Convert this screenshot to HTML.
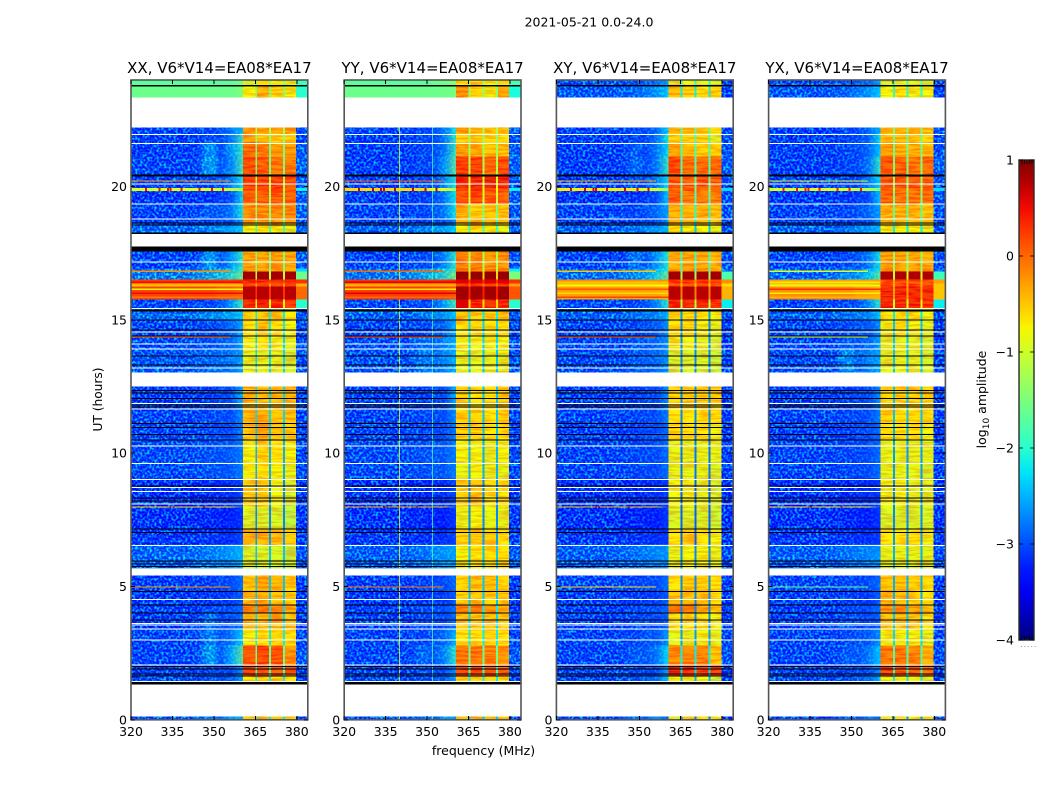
<!DOCTYPE html>
<html lang="en">
<head>
<meta charset="utf-8">
<title>2021-05-21 dynamic spectra</title>
<style>
html,body{margin:0;padding:0;background:#fff;}
svg{display:block;font-family:"DejaVu Sans","Liberation Sans",sans-serif;fill:#000;}
</style>
</head>
<body>
<svg id="chart" xmlns="http://www.w3.org/2000/svg" width="1050" height="800" viewBox="0 0 1050 800">
  <defs id="defs">
    <filter id="speckle" x="0" y="0" width="100%" height="100%" color-interpolation-filters="sRGB">
      <feTurbulence type="fractalNoise" baseFrequency="0.42" numOctaves="1" seed="7" result="n"/>
      <feColorMatrix in="n" type="matrix" values="0 0 0 0 0  3.4 0 0 0 -1.45  0 0 0 0 1  0 0 0 0 0.72" result="c"/>
      <feComposite in="c" in2="SourceAlpha" operator="in"/>
    </filter>
    <filter id="mottle" x="0" y="0" width="100%" height="100%" color-interpolation-filters="sRGB">
      <feTurbulence type="fractalNoise" baseFrequency="0.06 0.45" numOctaves="2" seed="11" result="n"/>
      <feColorMatrix in="n" type="matrix" values="0 0 0 0 1  3.5 0 0 0 -1.15  0 0 0 0 0  0 0 0 0 0.22" result="c"/>
      <feComposite in="c" in2="SourceAlpha" operator="in"/>
    </filter>
    <linearGradient id="jet-gradient" x1="0" y1="1" x2="0" y2="0"></linearGradient>
  </defs>
  <text x="589" y="26.5" font-size="12.5" text-anchor="middle">2021-05-21 0.0-24.0</text>
  <text x="483.5" y="755" font-size="12.5" text-anchor="middle">frequency (MHz)</text>
  <text transform="translate(102,399.5) rotate(-90)" font-size="12.2" text-anchor="middle">UT (hours)</text>
  <text transform="translate(986,399.5) rotate(-90)" font-size="12.5" text-anchor="middle">log<tspan font-size="9" dy="3">10</tspan><tspan dy="-3"> amplitude</tspan></text>
  <g id="panels"></g>
  <g id="colorbar"></g>
</svg>
<script>
/* ---------- data (UT hours, MHz, log10 amplitude) ---------- */
const panelTitles = ["XX, V6*V14=EA08*EA17", "YY, V6*V14=EA08*EA17", "XY, V6*V14=EA08*EA17", "YX, V6*V14=EA08*EA17"];
const xTicks = [320, 335, 350, 365, 380];
const yTicks = [0, 5, 10, 15, 20];
const colorTicks = [-4, -3, -2, -1, 0, 1];
const colorTickLabels = ["\u22124", "\u22123", "\u22122", "\u22121", "0", "1"];

/* frequency zones: background, blob, mid, ramp, sub-band 1, sep, sub-band 2, sep, sub-band 3, sep, sub-band 4, edge */
const freqEdges = [320, 344, 352, 356, 360.5, 365, 365.7, 370, 370.7, 375, 375.7, 379.7, 384];
/* maps each zone above to a column in the value rows */
const zoneColumn = [0, 1, 2, 3, 4, 5, 6, 5, 7, 5, 8, 9];

const timeEdges = [24, 23.79, 23.34, 22.22, 21.99, 21.65, 21.13, 20.38, 19.95, 19.83, 19.37, 18.80, 18.54, 18.28, 17.57, 16.93, 16.82, 16.52, 16.37, 16.25, 15.77, 15.43, 15.02, 14.42, 13.93, 13.03, 12.50, 11.64, 11.15, 10.48, 9.65, 9.06, 8.0, 7.96, 7.18, 6.58, 5.69, 5.42, 4.85, 4.33, 4.03, 3.43, 2.79, 2.08, 1.67, 1.41, 0.13, 0];

/* row columns: bg, blob, mid, ramp, sb1, sep, sb2, sb3, sb4, edge */
const valuesXX = [
[-1.7,-1.7,-1.7,-1.5,-1.0,-1.4,-0.7,-0.8,-0.9,-1.9],
[-1.6,-1.6,-1.6,-1.5,-0.8,-1.5,-0.4,-0.6,-0.8,-2.0],
null,
[-3.0,-3.0,-2.7,-2.4,-0.2,-1.2,-0.3,-0.3,-0.3,-2.9],
[-3.1,-3.0,-2.7,-1.9,-0.3,-1.4,-0.5,-0.6,-0.6,-2.9],
[-3.1,-2.3,-2.5,-1.9,0.05,-1.5,-0.05,-0.25,-0.25,-2.6],
[-3.0,-2.2,-2.6,-1.8,0.25,-1.5,0.15,-0.05,-0.05,-2.5],
[-3.1,-3.0,-2.7,-2.1,0.35,-1.2,0.35,0.35,0.25,-2.6],
[-0.9,-0.9,-1.0,-1.3,0.2,-1.0,0.3,0.3,0.2,-2.2],
[-3.2,-3.2,-3.0,-2.2,0.15,-1.3,0.15,0.15,0.15,-2.6],
[-3.0,-2.8,-2.7,-2.1,-0.15,-1.4,-0.15,-0.15,-0.15,-2.5],
[-3.1,-3.1,-3.0,-2.5,-0.3,-1.6,-0.3,-0.3,-0.3,-2.8],
[-2.5,-2.5,-2.4,-2.3,-0.8,-1.9,-0.7,-0.8,-0.9,-2.4],
null,
[-3.0,-2.2,-2.5,-1.9,-0.3,-1.5,-0.3,-0.3,-0.3,-2.6],
[-2.3,-2.2,-2.1,-1.9,-0.3,-1.4,-0.3,-0.3,-0.3,-2.3],
[-2.1,-2.0,-1.9,-1.5,0.85,-1.0,0.85,0.85,0.85,-1.6],
[0.25,0.25,0.25,0.3,0.5,0.2,0.5,0.5,0.5,0.3],
[-0.4,-0.4,-0.4,-0.4,0.3,-0.3,0.3,0.3,0.3,-0.4],
[0.2,0.2,0.1,0.0,0.75,0.3,0.75,0.75,0.75,0.0],
[-3.0,-3.0,-2.5,-1.8,0.5,-0.8,0.5,0.5,0.45,-2.0],
[-2.4,-2.4,-2.4,-2.3,-0.6,-2.2,-0.5,-0.6,-0.7,-2.7],
[-3.0,-3.0,-2.8,-2.5,-0.7,-2.2,-0.5,-0.7,-0.8,-2.9],
[-2.9,-2.9,-2.8,-2.5,-0.8,-2.3,-0.7,-0.8,-0.9,-2.9],
[-2.7,-2.7,-2.7,-2.5,-0.9,-2.3,-0.9,-0.9,-1.0,-2.8],
null,
[-3.1,-3.1,-3.0,-2.4,-0.4,-2.3,-0.5,-0.5,-0.4,-3.0],
[-3.0,-3.0,-3.0,-2.6,-0.4,-2.3,-0.4,-0.5,-0.5,-3.0],
[-3.0,-3.0,-3.0,-2.7,-0.5,-2.4,-0.3,-0.5,-0.6,-3.0],
[-2.9,-2.9,-2.9,-2.7,-0.8,-2.5,-0.6,-0.7,-0.8,-2.9],
[-2.9,-2.9,-2.9,-2.7,-0.8,-2.5,-0.7,-0.8,-0.9,-2.9],
[-3.3,-3.3,-3.2,-3.0,-0.6,-2.7,-0.6,-0.8,-1.0,-3.2],
[-0.6,-0.6,-0.7,-2.9,-0.8,-2.6,-0.8,-0.9,-1.1,-3.1],
[-3.3,-3.3,-3.3,-3.1,-1.0,-2.7,-1.0,-1.0,-1.2,-3.2],
[-3.2,-3.2,-3.2,-3.0,-0.4,-2.6,-0.4,-0.5,-0.6,-3.1],
[-2.5,-2.5,-2.5,-2.4,-1.0,-2.4,-1.0,-1.0,-1.1,-2.7],
null,
[-3.1,-3.1,-3.0,-2.8,-0.5,-2.4,-0.3,-0.4,-0.6,-3.1],
[-3.2,-3.2,-3.1,-2.9,-0.4,-2.4,-0.4,-0.5,-0.6,-3.2],
[-3.1,-3.0,-3.0,-2.8,-0.1,-2.3,0.0,-0.1,-0.3,-3.1],
[-3.1,-2.6,-3.0,-2.8,-0.4,-2.3,-0.4,-0.4,-0.5,-3.1],
[-3.0,-2.5,-2.7,-2.3,-0.8,-2.2,-0.7,-0.6,-0.7,-3.0],
[-3.0,-2.2,-2.4,-1.6,0.2,-1.6,0.3,0.2,-0.2,-2.7],
[-3.0,-3.0,-3.0,-2.6,0.3,-1.8,0.2,0.2,0.15,-3.0],
[-2.9,-2.9,-2.9,-2.5,-0.7,-2.2,-0.6,-0.6,-0.7,-3.0],
null,
[-2.8,-2.4,-2.4,-2.5,-0.5,-2.2,-0.4,-0.5,-0.6,-3.0]
];
const valuesYY = [
[-1.7,-1.7,-1.6,-1.4,-0.7,-1.2,-0.6,-0.8,-0.7,-1.8],
[-1.6,-1.6,-1.6,-1.5,-0.2,-1.4,-0.6,-0.8,-0.3,-2.1],
null,
[-3.0,-3.0,-2.7,-2.1,-0.2,-1.2,-0.5,-0.5,-0.4,-2.8],
[-3.1,-3.0,-2.7,-1.9,-0.6,-1.3,-0.6,-0.7,-0.7,-2.8],
[-3.1,-3.0,-2.7,-1.8,-0.3,-1.3,-0.4,-0.5,-0.5,-2.6],
[-3.1,-3.0,-2.5,-1.6,0.35,-1.2,0.35,0.05,0.25,-2.5],
[-3.1,-3.0,-2.6,-2.0,0.5,-1.0,0.5,0.55,0.5,-2.6],
[-0.6,-0.6,-0.8,-1.4,0.4,-0.8,0.5,0.3,0.3,-2.2],
[-3.1,-3.1,-2.7,-2.1,0.25,-1.0,0.25,0.15,0.15,-2.7],
[-3.0,-3.0,-2.7,-2.1,-0.4,-1.5,-0.6,-0.5,-0.5,-2.7],
[-3.1,-3.1,-3.0,-2.6,-0.4,-1.8,-0.4,-0.4,-0.5,-2.9],
[-2.5,-2.5,-2.4,-2.3,-0.8,-1.9,-0.7,-0.8,-0.9,-2.5],
null,
[-3.0,-3.0,-2.6,-1.9,-0.1,-1.2,-0.1,-0.2,-0.2,-2.7],
[-2.3,-2.2,-2.1,-1.8,-0.1,-1.1,-0.1,-0.1,-0.1,-2.2],
[-2.2,-2.1,-1.9,-1.4,0.9,-0.6,0.9,0.9,0.9,-1.5],
[0.3,0.3,0.3,0.35,0.6,0.3,0.6,0.6,0.6,0.3],
[-0.3,-0.3,-0.3,-0.3,0.4,-0.1,0.4,0.4,0.4,-0.3],
[0.25,0.25,0.2,0.1,0.85,0.4,0.85,0.85,0.85,0.1],
[-3.0,-3.0,-2.4,-1.7,0.6,-0.6,0.5,0.5,0.5,-2.0],
[-2.6,-2.6,-2.5,-2.3,-0.5,-2.2,-0.6,-0.6,-0.5,-2.7],
[-3.0,-3.0,-2.8,-2.4,-0.7,-2.3,-0.7,-0.7,-0.7,-2.9],
[-2.9,-2.6,-2.6,-2.4,-0.8,-2.3,-0.8,-0.8,-0.8,-2.9],
[-2.8,-2.5,-2.6,-2.4,-0.9,-2.4,-0.9,-0.9,-0.9,-2.8],
null,
[-3.1,-3.1,-3.0,-2.4,-0.6,-2.4,-0.7,-0.7,-0.6,-3.0],
[-3.0,-3.0,-3.0,-2.6,-0.6,-2.4,-0.6,-0.7,-0.6,-3.0],
[-3.0,-3.0,-3.0,-2.7,-0.6,-2.4,-0.6,-0.7,-0.7,-3.0],
[-2.9,-2.9,-2.9,-2.7,-0.8,-2.5,-0.8,-0.9,-0.8,-2.9],
[-2.9,-2.9,-2.9,-2.7,-0.9,-2.5,-0.8,-0.9,-0.9,-2.9],
[-3.3,-3.3,-3.2,-3.0,-0.6,-2.7,-0.5,-0.7,-0.7,-3.2],
[-0.4,-0.4,-0.5,-2.9,-0.8,-2.6,-0.8,-0.9,-0.9,-3.1],
[-3.3,-3.3,-3.3,-3.1,-0.9,-2.7,-0.8,-0.9,-0.9,-3.2],
[-3.2,-3.2,-3.2,-3.0,-0.6,-2.6,-0.5,-0.6,-0.7,-3.1],
[-2.6,-2.6,-2.5,-2.5,-0.8,-2.4,-0.7,-0.7,-0.7,-2.7],
null,
[-3.1,-3.1,-3.0,-2.8,-0.6,-2.4,-0.5,-0.5,-0.6,-3.1],
[-3.2,-3.2,-3.1,-2.9,-0.6,-2.4,-0.5,-0.6,-0.6,-3.2],
[-3.1,-3.0,-3.0,-2.8,-0.1,-2.2,-0.1,-0.2,-0.3,-3.1],
[-3.1,-3.0,-3.0,-2.8,-0.5,-2.3,-0.5,-0.5,-0.6,-3.1],
[-3.0,-3.0,-2.8,-2.4,-0.7,-2.2,-0.7,-0.6,-0.7,-3.0],
[-3.0,-2.7,-2.6,-1.9,0.0,-1.6,0.0,-0.1,-0.2,-2.7],
[-3.0,-3.0,-3.0,-2.6,0.35,-1.8,0.25,0.25,0.15,-3.0],
[-2.9,-2.9,-2.9,-2.5,-0.5,-2.2,-0.6,-0.6,-0.7,-3.0],
null,
[-2.9,-2.6,-2.5,-2.6,-0.5,-2.4,-0.4,-0.5,-0.6,-3.0]
];
const valuesXY = [
[-2.9,-2.9,-2.8,-2.5,-0.9,-2.0,-0.8,-0.9,-1.0,-3.0],
[-2.7,-2.7,-2.5,-2.3,-0.5,-2.2,-0.6,-0.7,-0.6,-3.1],
null,
[-3.1,-3.0,-2.8,-2.3,-0.4,-1.7,-0.5,-0.5,-0.7,-2.9],
[-3.1,-3.0,-2.7,-2.1,-0.6,-1.8,-0.6,-0.6,-0.9,-2.9],
[-3.1,-2.8,-2.7,-2.2,-0.3,-1.8,-0.5,-0.6,-0.6,-2.8],
[-3.1,-2.7,-2.7,-1.9,0.25,-1.8,0.05,0.05,0.05,-2.6],
[-3.1,-3.0,-2.7,-2.2,0.25,-1.7,0.15,0.25,0.15,-2.7],
[-0.7,-0.7,-0.9,-1.5,0.1,-1.4,0.2,0.1,0.0,-2.3],
[-3.2,-3.2,-3.0,-2.3,0.15,-1.8,-0.05,-0.05,-0.05,-2.8],
[-3.0,-3.0,-2.8,-2.5,-0.4,-2.0,-0.4,-0.4,-0.5,-2.8],
[-3.1,-3.1,-3.0,-2.6,-0.4,-2.2,-0.4,-0.4,-0.5,-3.0],
[-2.6,-2.6,-2.5,-2.4,-0.7,-2.4,-0.8,-0.8,-0.9,-2.7],
null,
[-3.0,-2.6,-2.5,-2.0,-0.4,-1.9,-0.3,-0.3,-0.4,-2.9],
[-2.5,-2.4,-2.3,-2.0,-0.3,-1.8,-0.2,-0.3,-0.3,-2.5],
[-2.4,-2.4,-2.1,-1.5,0.85,-1.3,0.85,0.85,0.85,-1.8],
[-0.2,-0.2,-0.2,-0.2,0.4,-0.2,0.4,0.4,0.4,-0.2],
[-0.6,-0.6,-0.6,-0.6,0.2,-0.5,0.2,0.2,0.2,-0.6],
[-0.3,-0.3,-0.3,-0.4,0.75,-0.1,0.75,0.75,0.75,-0.4],
[-3.0,-3.0,-2.6,-1.9,0.5,-1.2,0.5,0.5,0.45,-2.2],
[-2.6,-2.6,-2.6,-2.4,-0.6,-2.6,-0.7,-0.7,-0.8,-2.8],
[-3.0,-3.0,-2.9,-2.6,-0.7,-2.7,-0.7,-0.8,-0.9,-3.1],
[-3.0,-2.8,-2.8,-2.6,-0.8,-2.7,-0.8,-0.9,-1.0,-3.1],
[-2.9,-2.8,-2.8,-2.6,-1.0,-2.7,-1.0,-1.0,-1.1,-3.0],
null,
[-3.1,-3.1,-3.0,-2.6,-0.6,-2.7,-0.6,-0.6,-0.6,-3.2],
[-3.0,-3.0,-3.0,-2.7,-0.7,-2.7,-0.7,-0.7,-0.7,-3.1],
[-3.1,-3.1,-3.0,-2.8,-0.7,-2.8,-0.7,-0.7,-0.8,-3.2],
[-3.0,-3.0,-3.0,-2.8,-0.9,-2.8,-0.9,-0.9,-0.9,-3.1],
[-3.0,-3.0,-3.0,-2.8,-0.9,-2.8,-0.9,-0.9,-1.0,-3.1],
[-3.3,-3.3,-3.2,-3.1,-0.8,-2.9,-0.8,-0.9,-1.0,-3.3],
[-0.5,-0.5,-0.6,-3.0,-0.9,-2.9,-0.9,-0.9,-1.1,-3.2],
[-3.3,-3.3,-3.3,-3.1,-1.0,-2.9,-1.0,-1.0,-1.1,-3.3],
[-3.2,-3.2,-3.2,-3.1,-0.7,-2.9,-0.6,-0.7,-0.8,-3.2],
[-2.6,-2.6,-2.6,-2.6,-0.9,-2.7,-0.8,-0.8,-0.9,-2.9],
null,
[-3.0,-3.0,-3.0,-2.8,-0.7,-2.7,-0.6,-0.6,-0.7,-3.1],
[-3.1,-3.1,-3.1,-2.9,-0.5,-2.7,-0.5,-0.5,-0.7,-3.2],
[-3.1,-3.0,-3.0,-2.8,0.1,-2.7,0.0,-0.3,-0.5,-3.1],
[-3.1,-3.0,-3.0,-2.9,-0.7,-2.7,-0.7,-0.7,-0.8,-3.1],
[-3.0,-3.0,-2.9,-2.6,-0.9,-2.6,-0.9,-0.8,-0.9,-3.0],
[-3.0,-2.8,-2.7,-2.2,-0.2,-2.2,-0.1,-0.1,-0.5,-2.8],
[-3.0,-3.0,-3.0,-2.5,0.55,-2.3,0.45,0.35,0.35,-3.1],
[-2.9,-2.9,-2.8,-2.3,-0.8,-2.5,-0.8,-0.8,-1.1,-3.1],
null,
[-2.9,-2.5,-2.4,-3.0,-0.9,-2.8,-0.6,-0.7,-0.8,-3.2]
];
const valuesYX = [
[-2.9,-2.9,-2.8,-2.5,-1.0,-1.8,-0.9,-0.9,-1.0,-3.0],
[-2.7,-2.7,-2.5,-2.3,-0.8,-2.0,-0.7,-0.8,-0.8,-3.1],
null,
[-3.1,-3.0,-2.8,-2.4,-0.4,-1.5,-0.4,-0.4,-0.5,-2.9],
[-3.1,-3.0,-2.8,-2.2,-0.5,-1.6,-0.5,-0.5,-0.6,-2.9],
[-3.1,-3.0,-2.8,-2.3,-0.3,-1.6,-0.4,-0.4,-0.5,-2.8],
[-3.1,-3.0,-2.7,-1.9,0.2,-1.5,0.1,0.0,0.1,-2.6],
[-3.1,-3.0,-2.7,-2.2,0.2,-1.4,0.2,0.2,0.1,-2.7],
[-0.9,-0.9,-1.1,-1.6,0.1,-1.2,0.1,0.1,0.0,-2.3],
[-3.2,-3.2,-3.0,-2.3,0.1,-1.5,0.0,0.0,0.0,-2.8],
[-3.0,-3.0,-2.8,-2.5,-0.4,-1.7,-0.4,-0.4,-0.5,-2.8],
[-3.1,-3.1,-3.0,-2.6,-0.5,-1.9,-0.5,-0.5,-0.6,-3.0],
[-2.6,-2.6,-2.5,-2.4,-0.8,-2.2,-0.8,-0.8,-0.9,-2.7],
null,
[-3.0,-3.0,-2.7,-2.1,-0.3,-1.4,-0.3,-0.3,-0.4,-2.9],
[-2.6,-2.5,-2.4,-2.1,-0.3,-1.3,-0.3,-0.3,-0.3,-2.5],
[-2.5,-2.4,-2.2,-1.6,0.8,-0.9,0.8,0.8,0.8,-1.9],
[-0.3,-0.3,-0.3,-0.3,0.2,-0.3,0.2,0.2,0.2,-0.3],
[-0.6,-0.6,-0.6,-0.5,0.3,-0.4,0.3,0.3,0.3,-0.5],
[-0.2,-0.2,-0.3,-0.4,0.5,-0.3,0.5,0.5,0.5,-0.5],
[-3.0,-3.0,-2.6,-1.9,0.5,-0.9,0.5,0.5,0.45,-2.2],
[-2.6,-2.6,-2.6,-2.3,-0.7,-2.2,-0.7,-0.7,-0.8,-2.8],
[-3.0,-3.0,-2.9,-2.6,-0.8,-2.4,-0.7,-0.8,-0.9,-3.1],
[-3.0,-2.8,-2.8,-2.5,-0.9,-2.4,-0.9,-0.9,-1.0,-3.1],
[-2.9,-2.3,-2.6,-2.5,-0.9,-2.4,-0.9,-0.9,-1.0,-3.0],
null,
[-3.1,-3.1,-3.0,-2.6,-0.6,-2.4,-0.6,-0.6,-0.6,-3.2],
[-3.0,-3.0,-3.0,-2.7,-0.6,-2.4,-0.7,-0.7,-0.7,-3.1],
[-3.1,-3.1,-3.0,-2.8,-0.7,-2.5,-0.7,-0.7,-0.8,-3.2],
[-3.0,-3.0,-3.0,-2.8,-0.9,-2.6,-0.9,-0.9,-0.9,-3.1],
[-3.0,-3.0,-3.0,-2.8,-0.9,-2.6,-0.9,-0.9,-1.0,-3.1],
[-3.3,-3.3,-3.2,-3.1,-0.8,-2.7,-0.8,-0.9,-0.9,-3.3],
[-0.7,-0.7,-0.8,-3.0,-0.9,-2.7,-0.9,-0.9,-1.0,-3.2],
[-3.3,-3.3,-3.3,-3.1,-1.0,-2.7,-1.0,-1.0,-1.0,-3.3],
[-3.2,-3.2,-3.2,-3.1,-0.7,-2.6,-0.7,-0.7,-0.8,-3.2],
[-2.6,-2.6,-2.6,-2.6,-0.9,-2.5,-0.9,-0.9,-0.9,-2.9],
null,
[-3.0,-3.0,-3.0,-2.8,-0.5,-2.5,-0.5,-0.6,-0.7,-3.1],
[-3.1,-3.1,-3.1,-2.9,-0.4,-2.5,-0.5,-0.6,-0.7,-3.2],
[-3.1,-3.0,-3.0,-2.8,-0.2,-2.4,-0.1,-0.3,-0.5,-3.1],
[-3.1,-3.0,-3.0,-2.9,-0.5,-2.4,-0.5,-0.5,-0.7,-3.1],
[-3.0,-3.0,-2.9,-2.6,-0.8,-2.3,-0.8,-0.8,-0.9,-3.0],
[-3.0,-2.8,-2.7,-2.3,0.0,-1.8,0.0,-0.1,-0.4,-2.8],
[-3.0,-3.0,-3.0,-2.6,0.3,-1.9,0.2,0.2,0.1,-3.1],
[-2.9,-2.9,-2.8,-2.4,-0.8,-2.2,-0.8,-0.8,-0.9,-3.1],
null,
[-3.0,-2.7,-2.7,-2.9,-0.8,-2.6,-0.7,-0.8,-0.8,-3.2]
];
const panelValues = [valuesXX, valuesYY, valuesXY, valuesYX];

/* flagged time ranges: [start hour, end hour] */
const gapRanges = [[23.34,22.22],[18.24,17.75],[13.03,12.54],[5.67,5.42],[1.33,0.13]];
const whiteLineHours = [21.98,21.64,20.12,19.37,18.80,17.20,15.45,14.57,14.12,13.93,13.22,11.88,11.68,10.29,9.64,9.04,8.73,8.58,8.11,6.56,4.53,3.63,3.58,3.42,3.02,2.07,1.45];
const blackRanges = [[20.45,20.38],[18.28,18.22],[17.75,17.57],[15.39,15.32],[1.41,1.33],[23.82,23.76]];
const blackLineHours = [18.65,18.58,15.02,14.64,14.42,13.67,13.33,12.38,12.27,12.08,11.83,11.75,11.13,10.98,10.73,10.51,8.79,8.34,8.23,7.17,7.04,5.98,5.87,5.76,4.83,4.32,4.02,3.76,2.01,1.93,1.74,1.67];

/* narrow RFI streaks in the background band: hour and per-panel level */
const streakHours = [20.23, 16.85, 14.38, 5.0];
const streakLevels = [[-0.3,0.0,-0.4,-0.9],[-0.2,0.0,-0.5,-0.9],[0.0,0.2,0.1,-1.0],[-0.2,-0.1,-0.6,-1.6]];
/* wide-band stripes around the 16 h interference */
const bandStripeHours = [16.44, 16.31, 16.18, 16.03, 15.88];
const bandStripeLevels = [[0.5,-0.5,-0.8,0.5,-0.1],[0.6,-0.4,-0.7,0.6,0.0],[-0.5,-0.8,0.1,-0.6,0.2],[-0.7,-0.9,0.3,-0.7,-0.4]];
/* red specks on the 19.9 h and 8 h streaks */
const speckMHz = [325, 330, 333, 334, 338, 344.5, 349, 353];
const speckMHz8h = [334, 335, 346];
const speckLevel = [0.5, 0.7, 0.6, 0.45];
/* persistent narrow channels visible in YY only */
const rfiChannels = [[], [339.9, 351.8], [], []];
const rfiLevels = [[], [-0.9, -1.9], [], []];

/* jet colormap control points */
const jetRPos = [0, 0.35, 0.66, 0.89, 1];
const jetRVal = [0, 0, 1, 1, 0.5];
const jetGPos = [0, 0.125, 0.375, 0.64, 0.91, 1];
const jetGVal = [0, 0, 1, 1, 0, 0];
const jetBPos = [0, 0.11, 0.34, 0.65, 1];
const jetBVal = [0.5, 1, 1, 0, 0];
const colorMin = -4;
const colorMax = 1;
const freqMin = 320;
const freqMax = 384;
const timeMin = 0;
const timeMax = 24;

/* ---------- layout ---------- */
const panelLeft = [131, 344.2, 556.4, 768.6];
const panelWidth = 176.8;
const plotTop = 80;
const plotBottom = 719.8;
const cbLeft = 1019;
const cbWidth = 15;
const cbTop = 160;
const cbBottom = 640;

/* ---------- scales ---------- */
function xScale(p, mhz) { return panelLeft[p] + (mhz - freqMin) / (freqMax - freqMin) * panelWidth; }
function yScale(h) { return plotBottom - (h - timeMin) / (timeMax - timeMin) * (plotBottom - plotTop); }
function cbScale(v) { return cbBottom - (v - colorMin) / (colorMax - colorMin) * (cbBottom - cbTop); }
function piece(pos, val, t) {
  for (let i = 1; i < pos.length; i++) {
    if (t <= pos[i]) return val[i-1] + (val[i]-val[i-1]) * (t-pos[i-1]) / (pos[i]-pos[i-1]);
  }
  return val[val.length-1];
}
function jet(v) {
  const t = Math.max(0, Math.min(1, (v - colorMin) / (colorMax - colorMin)));
  const c = x => Math.round(x * 255);
  return 'rgb(' + c(piece(jetRPos,jetRVal,t)) + ',' + c(piece(jetGPos,jetGVal,t)) + ',' + c(piece(jetBPos,jetBVal,t)) + ')';
}

/* ---------- drawing ---------- */
const NS = 'http://www.w3.org/2000/svg';
const defsEl = document.getElementById('defs');
function mk(tag, attrs, parent) {
  const el = document.createElementNS(NS, tag);
  for (const k in attrs) el.setAttribute(k, attrs[k]);
  parent.appendChild(el);
  return el;
}
/* smooth transition across the blob, mid and ramp zones of one row */
function rowGradient(p, r, row) {
  const id = 'row-' + p + '-' + r;
  const lg = mk('linearGradient', {id: id, gradientUnits: 'userSpaceOnUse', x1: xScale(p, 344), x2: xScale(p, 360.5), y1: 0, y2: 0}, defsEl);
  mk('stop', {offset: 0, 'stop-color': jet(row[0])}, lg);
  mk('stop', {offset: 0.2, 'stop-color': jet(row[1])}, lg);
  mk('stop', {offset: 0.34, 'stop-color': jet(row[1])}, lg);
  mk('stop', {offset: 0.5, 'stop-color': jet(Math.min(row[0] + 0.1, row[2]))}, lg);
  mk('stop', {offset: 0.73, 'stop-color': jet(row[2])}, lg);
  mk('stop', {offset: 1, 'stop-color': jet(row[3])}, lg);
  return 'url(#' + id + ')';
}
const panelsRoot = document.getElementById('panels');

panelTitles.forEach(function (title, p) {
  const g = mk('g', {'shape-rendering': 'crispEdges'}, panelsRoot);
  
  
  const left = xScale(p, freqMin), right = xScale(p, freqMax);

  /* speckle fades out towards the band edge */
  const fade = mk('linearGradient', {id: 'fade-' + p, gradientUnits: 'userSpaceOnUse', x1: xScale(p, 340), x2: xScale(p, 360.5), y1: 0, y2: 0}, defsEl);
  mk('stop', {offset: 0, 'stop-color': '#fff'}, fade);
  mk('stop', {offset: 0.55, 'stop-color': '#999'}, fade);
  mk('stop', {offset: 1, 'stop-color': '#333'}, fade);
  const maskEl = mk('mask', {id: 'mask-' + p, maskUnits: 'userSpaceOnUse', x: left, y: plotTop, width: right - left, height: plotBottom - plotTop}, defsEl);
  mk('rect', {x: left, y: plotTop, width: right - left, height: plotBottom - plotTop, fill: 'url(#fade-' + p + ')'}, maskEl);

  const cells = mk('g', {}, g);
  
  
  const speckWrap = mk('g', {mask: 'url(#mask-' + p + ')'}, g);
  
  
  const speck = mk('g', {filter: 'url(#speckle)'}, speckWrap);
  
  
  const speckEdge = mk('g', {filter: 'url(#speckle)'}, g);
  
  
  const mottle = mk('g', {filter: 'url(#mottle)'}, g);
  
  

  panelValues[p].forEach(function (row, r) {
    if (!row) return;
    const y0 = yScale(timeEdges[r]), y1 = yScale(timeEdges[r + 1]);
    const smooth = rowGradient(p, r, row);
    zoneColumn.forEach(function (col, z) {
      const x0 = xScale(p, freqEdges[z]), x1 = xScale(p, freqEdges[z + 1]);
      const fill = (z >= 1 && z <= 3) ? smooth : jet(row[col]);
      const cell = mk('rect', {x: x0, y: y0, width: x1 - x0 + 0.4, height: y1 - y0 + 0.4, fill: fill}, cells);
      
      
      if (z === 11 && row[col] < -2.3) {
        mk('rect', {x: x0, y: y0, width: x1 - x0, height: y1 - y0}, speckEdge);
      }
      if (z >= 4 && z <= 10 && col !== 5 && row[col] < 0.6) {
        mk('rect', {x: x0, y: y0, width: x1 - x0, height: y1 - y0}, mottle);
      }
    });
    if (row[0] < -2.0) {
      mk('rect', {x: left, y: y0, width: xScale(p, 360.5) - left, height: y1 - y0}, speck);
    }
    rfiChannels[p].forEach(function (mhz, c) {
      if (row[0] < -2) {
        const line = mk('rect', {x: xScale(p, mhz), y: y0, width: 1, height: y1 - y0, fill: jet(rfiLevels[p][c]), opacity: 0.8}, g);
        
        
      }
    });
  });

  streakHours.forEach(function (h, i) {
    const s = mk('rect', {x: left, y: yScale(h), width: xScale(p, 356) - left, height: 1.2, fill: jet(streakLevels[i][p])}, g);
    
    
  });
  bandStripeHours.forEach(function (h, i) {
    const s = mk('rect', {x: left, y: yScale(h), width: xScale(p, 360.5) - left, height: 1.4, fill: jet(bandStripeLevels[p][i])}, g);
    
    
  });
  speckMHz.forEach(function (mhz) {
    const s = mk('rect', {x: xScale(p, mhz), y: yScale(19.95), width: 2, height: 3, fill: jet(speckLevel[p])}, g);
    
    
  });
  speckMHz8h.forEach(function (mhz) {
    const s = mk('rect', {x: xScale(p, mhz), y: yScale(8.0), width: 2, height: 1, fill: jet(speckLevel[p])}, g);
    
    
  });

  gapRanges.forEach(function (rg) {
    const s = mk('rect', {x: left, y: yScale(rg[0]), width: right - left, height: yScale(rg[1]) - yScale(rg[0]), fill: '#fff'}, g);
    
    
  });
  whiteLineHours.forEach(function (h) {
    const s = mk('rect', {x: left, y: yScale(h), width: right - left, height: 1.1, fill: '#fff'}, g);
    
    
  });
  blackRanges.forEach(function (rg) {
    const s = mk('rect', {x: left, y: yScale(rg[0]), width: right - left, height: yScale(rg[1]) - yScale(rg[0]), fill: '#000'}, g);
    
    
  });
  blackLineHours.forEach(function (h) {
    const s = mk('rect', {x: left, y: yScale(h), width: right - left, height: 1, fill: '#000'}, g);
    
    
  });

  const frame = mk('rect', {x: left, y: plotTop, width: right - left, height: plotBottom - plotTop, fill: 'none', stroke: '#555', 'stroke-width': 1.6, 'shape-rendering': 'auto'}, g);
  
  

  xTicks.forEach(function (t) {
    const x = xScale(p, t);
    const a = mk('line', {x1: x, x2: x, y1: plotBottom, y2: plotBottom - 4, stroke: '#000', 'stroke-width': 1}, g);
    
    
    const b = mk('line', {x1: x, x2: x, y1: plotTop, y2: plotTop + 4, stroke: '#000', 'stroke-width': 1}, g);
    
    
    const label = mk('text', {x: x, y: 736, 'font-size': 12.5, 'text-anchor': 'middle'}, g);
    label.textContent = String(t);
    
    
  });
  yTicks.forEach(function (t) {
    const y = yScale(t);
    const a = mk('line', {x1: left, x2: left + 4, y1: y, y2: y, stroke: '#000', 'stroke-width': 1}, g);
    
    
    const b = mk('line', {x1: right, x2: right - 4, y1: y, y2: y, stroke: '#000', 'stroke-width': 1}, g);
    
    
    const label = mk('text', {x: left - 4, y: y + 4.5, 'font-size': 12.5, 'text-anchor': 'end'}, g);
    label.textContent = String(t);
    
    
  });

  const ttl = mk('text', {x: (left + right) / 2, y: 73, 'font-size': 15, 'text-anchor': 'middle'}, g);
  ttl.textContent = title;
  
  
});

/* ---------- colorbar ---------- */
const grad = document.getElementById('jet-gradient');
for (let i = 0; i <= 20; i++) {
  const v = colorMin + (colorMax - colorMin) * i / 20;
  mk('stop', {offset: (i * 5) + '%', 'stop-color': jet(v)}, grad);
}
const cb = document.getElementById('colorbar');
const cbRect = mk('rect', {x: cbLeft, y: cbTop, width: cbWidth, height: cbBottom - cbTop, fill: 'url(#jet-gradient)', stroke: '#2a2a2a', 'stroke-width': 1.4}, cb);


colorTicks.forEach(function (t, i) {
  const y = cbScale(t);
  const a = mk('line', {x1: cbLeft, x2: cbLeft + 4, y1: y, y2: y, stroke: '#000', 'stroke-width': 0.8}, cb);
  
  
  const b = mk('line', {x1: cbLeft + cbWidth - 4, x2: cbLeft + cbWidth, y1: y, y2: y, stroke: '#000', 'stroke-width': 0.8}, cb);
  
  
  const label = mk('text', {x: cbLeft - 5, y: y + 4.5, 'font-size': 12.5, 'text-anchor': 'end'}, cb);
  label.textContent = colorTickLabels[i];
  
  
});
const cbMinorTicks = [3, 5.5, 8, 10.5, 13];
cbMinorTicks.forEach(function (dx) {
  const a = mk('line', {x1: cbLeft + dx, x2: cbLeft + dx, y1: cbTop, y2: cbTop + 4, stroke: '#000', 'stroke-width': 0.7}, cb);
  
  
  const b = mk('line', {x1: cbLeft + dx, x2: cbLeft + dx, y1: cbBottom, y2: cbBottom - 4, stroke: '#000', 'stroke-width': 0.7}, cb);
  
  
  const d = mk('rect', {x: cbLeft - 2 + dx * 1.35, y: 646, width: 1, height: 1, fill: '#999'}, cb);
  
  
});
</script>
</body>
</html>
